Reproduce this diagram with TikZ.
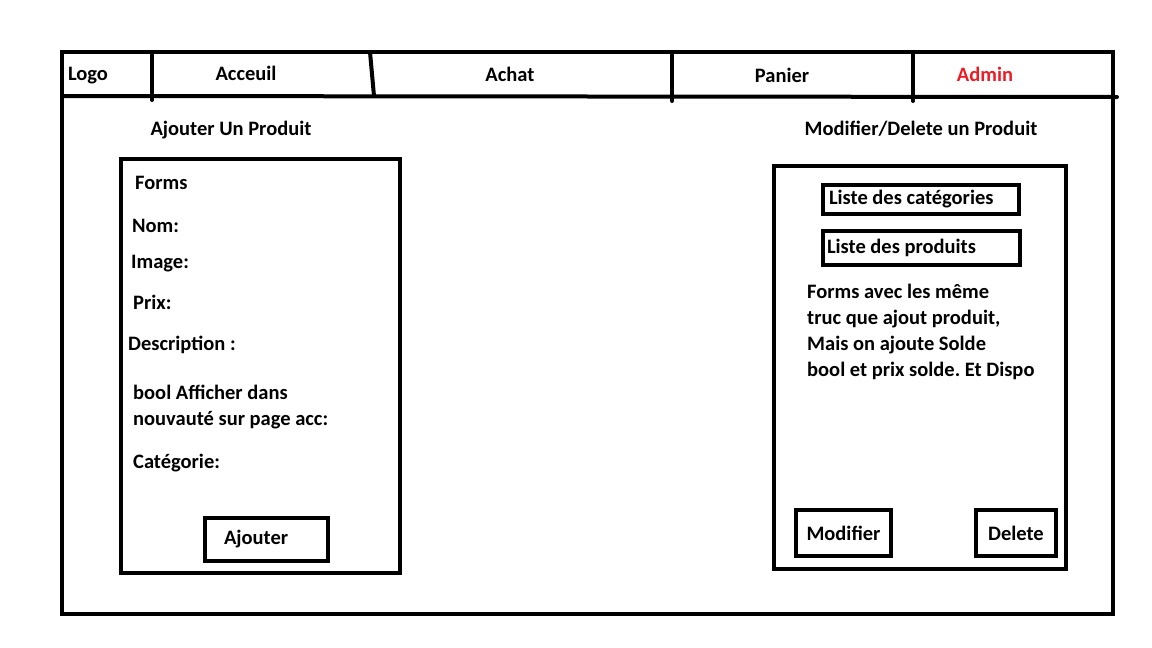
\documentclass[tikz,border=0pt]{standalone}
\usepackage{fontspec}
\setmainfont{Carlito}
\usepackage{tikz}
\usetikzlibrary{positioning, calc}
\definecolor{AdminRed}{RGB}{237,28,36}
\tikzset{
  frame/.style={line width=4pt, line cap=round},
  lbl/.style={font=\fontsize{20.5}{26}\selectfont\bfseries\frenchspacing, inner sep=0pt},
  field/.style={lbl, anchor=west},
  btn/.style={lbl, draw, line width=4pt, anchor=north west}
}
\begin{document}
\begin{tikzpicture}[x=1pt, y=-1pt]
  \useasboundingbox (0,0) rectangle (1152,648);
  % Outer frame
  \draw[frame] (62,52) rectangle (1113,614);
  % Nav bar
  \draw[frame] (62,96) -- (1117,97);
  \draw[frame] (152,52) -- (152,100);
  \draw[frame] (370,52) -- (374,96);
  \draw[frame] (672,52) -- (672,101);
  \draw[frame] (913,52) -- (913,101);
  \node[lbl] (logo) at (88,76) {Logo};
  \node[lbl] (acceuil) at (246,73) {Acceuil};
  \node[lbl] (achat) at (510,74) {Achat};
  \node[lbl] (panier) at (782,75) {Panier};
  \node[lbl, text=AdminRed] (admin) at (985,74) {Admin};
  % Left column: ajouter
  \node[lbl] (ajoutTitle) at (231,130) {Ajouter Un Produit};
  \draw[frame] (121,159) rectangle (400,573);
  \node[field] (forms) at (135,183) {Forms};
  \node[field] (nom) at (132,226) {Nom:};
  \node[field] (image) at (131,264) {Image:};
  \node[field] (prix) at (133,302) {Prix:};
  \node[field] (desc) at (128,345) {Description :};
  \node[field, align=left] (nouv) at (133,407) {bool Afficher dans\\nouvauté sur page acc:};
  \node[field] (cat) at (133,463) {Catégorie:};
  \node[btn, minimum height=43pt] (ajouter) at (203,516) {\makebox[123pt][l]{\hspace{19pt}Ajouter}};
  % Right column: modifier / delete
  \node[lbl] (modTitle) at (921,129) {Modifier/Delete un Produit};
  \draw[frame] (774,166) rectangle (1066,569);
  \node[btn, minimum height=29pt] (listeCat) at (821,183) {\makebox[196pt][l]{\hspace{6pt}Liste des catégories}};
  \node[btn, minimum height=34pt] (listeProd) at (821,229) {\makebox[197pt][l]{\hspace{4pt}Liste des produits}};
  \node[field, align=left] (modText) at (807,332) {Forms avec les même\\truc que ajout produit,\\Mais on ajoute Solde\\bool et prix solde. Et Dispo};
  \node[btn, minimum width=95pt, minimum height=46pt] (modifier) at (794,508) {Modifier};
  \node[btn, minimum width=80pt, minimum height=46pt] (delete) at (974,508) {Delete};
\end{tikzpicture}
\end{document}
